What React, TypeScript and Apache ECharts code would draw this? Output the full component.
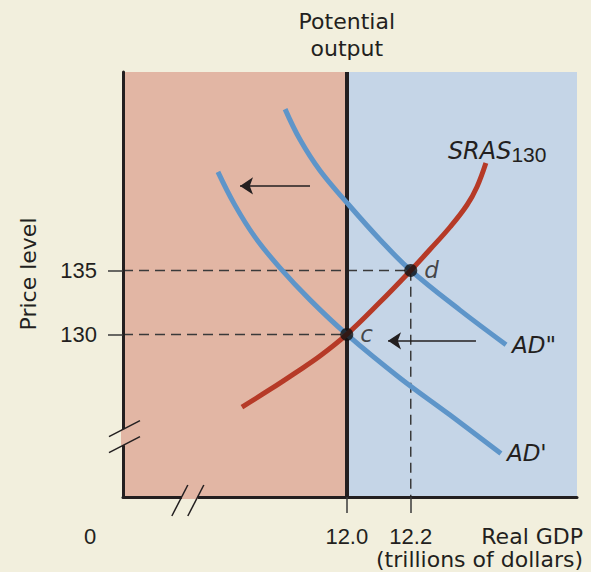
import React, { useEffect, useRef } from "react";
import * as echarts from "echarts";

// Axis ranges (data units)
const xMin = 11.3;
const xMax = 12.72;
const yMin = 117.3;
const yMax = 150.5;
const potentialOutput = 12.0;

// Tick labels
const yTicks = [130, 135];
const xTicks = [12.0, 12.2];

// SRAS130 curve
const srasX = [11.672, 11.76, 11.838, 11.916, 12.0, 12.101, 12.2, 12.26, 12.323, 12.376, 12.407, 12.435];
const srasY = [124.33, 125.7, 126.98, 128.31, 130, 132.45, 135, 136.63, 138.39, 140.11, 141.52, 143.39];

// AD' curve
const adPrimeX = [11.597, 11.65, 11.713, 11.791, 11.885, 12.0, 12.166, 12.323, 12.482];
const adPrimeY = [142.7, 140.1, 137.6, 135.2, 132.7, 130, 126.6, 123.7, 120.7];

// AD'' curve
const adDoubleX = [11.807, 11.854, 11.916, 12.0, 12.104, 12.2, 12.354, 12.498];
const adDoubleY = [147.6, 145.2, 142.8, 140.3, 137.4, 135, 131.9, 129.2];

// Equilibrium points
const pointNames = ["c", "d"];
const pointX = [12.0, 12.2];
const pointY = [130, 135];

// Shift arrows [xStart, xEnd, y]
const arrowUpper = [11.885, 11.666, 141.6];
const arrowLower = [12.404, 12.129, 129.5];

// Axis break positions
const yBreaks = [122.6, 121.35];
const xBreaks = [11.484, 11.534];

const INK = "#231f20";
const PINK = "#e2b6a4";
const BLUE = "#c5d5e7";
const RED = "#b63a27";
const LBLUE = "#5e95c9";
const BG = "#f2efdd";
const NUMFONT = "'Liberation Sans', Arial, Helvetica, sans-serif";
const WORDFONT = "'DejaVu Sans', 'Liberation Sans', sans-serif";

const zip = (xs: number[], ys: number[]) => xs.map((x, i) => [x, ys[i]]);

export default function App() {
  const ref = useRef<HTMLDivElement>(null);

  useEffect(() => {
    if (!ref.current) return;
    const chart = echarts.init(ref.current, undefined, { renderer: "svg" });

    const italicLabel = {
      fontStyle: "italic" as const,
      fontSize: 23,
      color: INK,
      fontFamily: WORDFONT,
    };

    const option: any = {
      animation: false,
      backgroundColor: BG,
      textStyle: { fontFamily: NUMFONT },
      grid: { left: 123, right: 14, top: 72, bottom: 75, containLabel: false },
      xAxis: {
        type: "value",
        min: xMin,
        max: xMax,
        z: 10,
        splitLine: { show: false },
        axisLine: { show: true, onZero: false, lineStyle: { color: INK, width: 3 } },
        axisTick: {
          show: true,
          customValues: xTicks,
          length: 16,
          inside: false,
          lineStyle: { color: "#3a3a3a", width: 1.5 },
        },
        axisLabel: {
          show: true,
          customValues: xTicks,
          formatter: (v: number) => v.toFixed(1),
          fontSize: 22,
          color: INK,
          fontFamily: NUMFONT,
          margin: 28,
        },
      },
      yAxis: {
        type: "value",
        min: yMin,
        max: yMax,
        z: 10,
        splitLine: { show: false },
        axisLine: { show: true, onZero: false, lineStyle: { color: INK, width: 3 } },
        axisTick: {
          show: true,
          customValues: yTicks,
          length: 15,
          inside: false,
          lineStyle: { color: "#3a3a3a", width: 1.5 },
        },
        axisLabel: {
          show: true,
          customValues: yTicks,
          formatter: (v: number) => String(v),
          fontSize: 22,
          color: INK,
          fontFamily: NUMFONT,
          margin: 26,
        },
      },
      series: [
        {
          name: "regions",
          type: "line",
          data: [],
          silent: true,
          markArea: {
            silent: true,
            data: [
              [{ xAxis: xMin, itemStyle: { color: PINK } }, { xAxis: potentialOutput }],
              [{ xAxis: potentialOutput, itemStyle: { color: BLUE } }, { xAxis: xMax }],
            ],
          },
        },
        {
          name: "guide135",
          type: "line",
          data: [
            [xMin, pointY[1]],
            [pointX[1], pointY[1]],
            [pointX[1], yMin],
          ],
          symbol: "none",
          z: 3,
          lineStyle: { color: "#3a3a3a", width: 1.5, type: [10, 6] },
        },
        {
          name: "guide130",
          type: "line",
          data: [
            [xMin, pointY[0]],
            [pointX[0], pointY[0]],
          ],
          symbol: "none",
          z: 3,
          lineStyle: { color: "#3a3a3a", width: 1.5, type: [10, 6] },
        },
        {
          name: "potential",
          type: "line",
          data: [],
          z: 4,
          markLine: {
            silent: true,
            symbol: "none",
            label: { show: false },
            lineStyle: { color: INK, width: 4, type: "solid" },
            data: [{ xAxis: potentialOutput }],
          },
        },
        {
          name: "AD'",
          type: "line",
          data: zip(adPrimeX, adPrimeY),
          smooth: 0.4,
          symbol: "none",
          z: 5,
          lineStyle: { color: LBLUE, width: 5 },
          endLabel: { show: true, formatter: "AD'", distance: 6, ...italicLabel },
        },
        {
          name: "AD''",
          type: "line",
          data: zip(adDoubleX, adDoubleY),
          smooth: 0.4,
          symbol: "none",
          z: 5,
          lineStyle: { color: LBLUE, width: 5 },
          endLabel: { show: true, formatter: 'AD"', distance: 6, ...italicLabel },
        },
        {
          name: "SRAS130",
          type: "line",
          data: zip(srasX, srasY),
          smooth: 0.4,
          symbol: "none",
          z: 6,
          lineStyle: { color: RED, width: 5 },
          endLabel: {
            show: true,
            formatter: "{a|SRAS}{b|130}",
            distance: 0,
            offset: [-38, -11],
            rich: {
              a: { fontStyle: "italic", fontSize: 24, lineHeight: 26, verticalAlign: "top", color: INK, fontFamily: WORDFONT },
              b: { fontSize: 21, lineHeight: 22, verticalAlign: "bottom", padding: [14, 0, 0, 0], color: INK, fontFamily: NUMFONT },
            },
          },
        },
        {
          name: "arrows",
          type: "line",
          data: [],
          z: 6,
          markLine: {
            silent: true,
            symbol: ["none", "arrow"],
            symbolSize: 13,
            label: { show: false },
            lineStyle: { color: INK, width: 1.5, type: "solid" },
            data: [
              [{ coord: [arrowUpper[0], arrowUpper[2]] }, { coord: [arrowUpper[1], arrowUpper[2]] }],
              [{ coord: [arrowLower[0], arrowLower[2]] }, { coord: [arrowLower[1], arrowLower[2]] }],
            ],
          },
        },
        {
          name: "points",
          type: "scatter",
          data: pointNames.map((n, i) => ({ name: n, value: [pointX[i], pointY[i]] })),
          symbolSize: 13,
          z: 8,
          itemStyle: { color: "#111" },
          label: {
            show: true,
            position: "right",
            distance: 7,
            formatter: (p: any) => p.name,
            ...italicLabel,
          },
        },
      ],
    };

    chart.setOption(option);

    const px = (x: number, y: number) => chart.convertToPixel({ gridIndex: 0 }, [x, y]) as number[];
    const origin = px(xMin, yMin);
    const po = px(potentialOutput, yMax);
    const lineStyle = { stroke: INK, lineWidth: 1.5 };
    const graphic: any[] = [];

    // y-axis break
    const yb = yBreaks.map((v) => px(xMin, v));
    graphic.push({
      type: "rect",
      z: 100,
      shape: { x: origin[0] - 2, y: yb[0][1], width: 4, height: yb[1][1] - yb[0][1] },
      style: { fill: PINK },
    });
    yb.forEach((p) => {
      graphic.push({
        type: "line",
        z: 101,
        shape: { x1: p[0] - 14, y1: p[1] + 7.5, x2: p[0] + 17, y2: p[1] - 8.5 },
        style: lineStyle,
      });
    });
    // x-axis break
    const xb = xBreaks.map((v) => px(v, yMin));
    graphic.push({
      type: "rect",
      z: 100,
      shape: { x: xb[0][0], y: origin[1] - 2, width: xb[1][0] - xb[0][0], height: 4 },
      style: { fill: PINK },
    });
    xb.forEach((p) => {
      graphic.push({
        type: "line",
        z: 101,
        shape: { x1: p[0] - 10, y1: p[1] + 19, x2: p[0] + 6, y2: p[1] - 12 },
        style: lineStyle,
      });
    });

    const txt = (text: string, x: number, y: number, align: string, family = WORDFONT) => ({
      type: "text",
      z: 100,
      x,
      y,
      style: {
        text,
        fill: INK,
        font: `22px ${family}`,
        textAlign: align,
        textVerticalAlign: "middle",
      },
    });

    graphic.push(txt("Potential", po[0], 21, "center"));
    graphic.push(txt("output", po[0], 48, "center"));
    graphic.push({
      type: "text",
      z: 100,
      x: 28,
      y: 274,
      rotation: Math.PI / 2,
      style: {
        text: "Price level",
        fill: INK,
        font: `22px ${WORDFONT}`,
        textAlign: "center",
        textVerticalAlign: "middle",
      },
    });
    graphic.push(txt("0", origin[0] - 33, origin[1] + 39, "center", NUMFONT));
    graphic.push(txt("Real GDP", 583, origin[1] + 39, "right"));
    graphic.push(txt("(trillions of dollars)", 583, origin[1] + 62, "right"));

    chart.setOption({ graphic });

    return () => chart.dispose();
  }, []);

  return (
    <div
      ref={ref}
      style={{ position: "fixed", left: 0, top: 0, width: 591, height: 572 }}
    />
  );
}
